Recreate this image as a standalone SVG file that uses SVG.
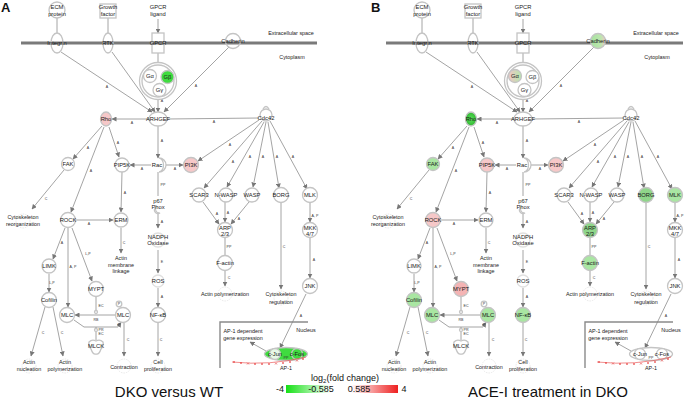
<svg xmlns="http://www.w3.org/2000/svg" width="685" height="404" viewBox="0 0 685 404">
<style>
.n{fill:#fff;stroke:#c4c4c4;stroke-width:1.3}
.nn{fill:none;stroke:#c4c4c4;stroke-width:1.3}
.fn{fill:none;stroke:#e2e2e2;stroke-width:0.8;stroke-dasharray:1.5,1}
.t{font-family:"Liberation Sans",Arial,sans-serif;font-size:5.8px;text-anchor:middle;fill:#1a1a1a}
.tf{font-family:"Liberation Sans",Arial,sans-serif;font-size:5.4px;text-anchor:middle;fill:#1a1a1a}
.tl{font-family:"Liberation Sans",Arial,sans-serif;font-size:3.6px;text-anchor:middle;fill:#333}
.e{fill:none;stroke:#858585;stroke-width:0.75}
.a{fill:none;stroke:#858585;stroke-width:0.75;marker-end:url(#ah)}
.mem{stroke:#7a7a7a;stroke-width:3}
.nuc{fill:none;stroke:#8a8a8a;stroke-width:1.4}
.pk{fill:#f6c8c8}
.gr{fill:#3fdc3f}
.lg{fill:#a9e6a2}
.mg{fill:#8fd68a}
.big{font-family:"Liberation Sans",Arial,sans-serif;font-size:15px;text-anchor:middle;fill:#111}
.lab{font-family:"Liberation Sans",Arial,sans-serif;font-size:13px;font-weight:bold;fill:#111}
.leg{font-family:"Liberation Sans",Arial,sans-serif;font-size:9px;text-anchor:middle;fill:#111}
.xl{fill:none;stroke:#e84040;stroke-width:0.6}
</style>
<defs>
<marker id="ah" viewBox="0 0 10 10" refX="9" refY="5" markerWidth="5" markerHeight="5" markerUnits="userSpaceOnUse" orient="auto"><path d="M0,0 L10,5 L0,10 z" fill="#777"/></marker>
<linearGradient id="gAl" x1="0" y1="0" x2="1" y2="0"><stop offset="0" stop-color="#f2c4c4"/><stop offset="1" stop-color="#b4e8ac"/></linearGradient>
<linearGradient id="gCad" x1="0" y1="0" x2="1" y2="0"><stop offset="0" stop-color="#a6e29e"/><stop offset="0.7" stop-color="#bde6b0"/><stop offset="1" stop-color="#f0c8c0"/></linearGradient>
<radialGradient id="gRho"><stop offset="0" stop-color="#5ee05e"/><stop offset="1" stop-color="#2fb82f"/></radialGradient>
<linearGradient id="gLeg" x1="0" y1="0" x2="1" y2="0"><stop offset="0" stop-color="#16e016"/><stop offset="0.4" stop-color="#ffffff"/><stop offset="0.58" stop-color="#ffffff"/><stop offset="1" stop-color="#ee2020"/></linearGradient>
</defs>
<rect width="685" height="404" fill="#fff"/>

<text class="lab" x="1" y="12">A</text>
<text class="lab" x="371" y="12">B</text>

<!-- ================= PANEL A ================= -->
<g id="panelA">
<line id="A-membrane" class="mem" x1="21" y1="43" x2="317" y2="43"/>
<text class="tf" x="291" y="35">Extracellular space</text>
<text class="tf" x="292" y="59">Cytoplasm</text>
<path id="A-nucleus" class="nuc" d="M220,368 V322 H308"/>
<text class="tf" x="306" y="332">Nucleus</text>

<g id="A-edges">
<line class="e" x1="57" y1="18" x2="57" y2="33"/>
<line class="e" x1="108" y1="18" x2="108" y2="33"/>
<line class="a" x1="158" y1="19" x2="158" y2="33"/>
<line class="e" x1="158" y1="53" x2="158" y2="62"/>
<line class="a" x1="61" y1="52" x2="152" y2="112"/>
<line class="a" x1="112" y1="52" x2="155" y2="112"/>
<line class="a" x1="158" y1="100" x2="158" y2="112"/>
<line class="a" x1="229" y1="47" x2="164" y2="112"/>
<line class="a" x1="149" y1="119" x2="112" y2="119"/>
<line class="e" x1="167" y1="119" x2="259" y2="118"/>
<line class="a" x1="158" y1="126" x2="158" y2="158"/>
<line class="a" x1="151" y1="165" x2="130" y2="165"/>
<line class="a" x1="165" y1="165" x2="183" y2="165"/>
<line class="e" x1="158" y1="172" x2="158" y2="196"/>
<line class="a" x1="102" y1="126" x2="73" y2="159"/>
<line class="a" x1="104" y1="127" x2="71" y2="212"/>
<line class="a" x1="109" y1="127" x2="119" y2="157"/>
<line class="a" x1="259" y1="120" x2="198" y2="161"/>
<line class="a" x1="262" y1="121" x2="204" y2="188"/>
<line class="a" x1="264" y1="122" x2="227" y2="187"/>
<line class="a" x1="266" y1="122" x2="253" y2="187"/>
<line class="a" x1="268" y1="122" x2="279" y2="188"/>
<line class="a" x1="270" y1="121" x2="307" y2="189"/>
<line class="a" x1="203" y1="202" x2="219" y2="224"/>
<line class="a" x1="225" y1="202" x2="225" y2="222"/>
<line class="a" x1="249" y1="202" x2="231" y2="224"/>
<line class="e" x1="225" y1="238" x2="225" y2="255"/>
<line class="a" x1="225" y1="271" x2="225" y2="286"/>
<line class="a" x1="281" y1="203" x2="281" y2="289"/>
<line class="a" x1="310" y1="203" x2="310" y2="222"/>
<line class="a" x1="310" y1="238" x2="310" y2="278"/>
<line class="a" x1="306" y1="294" x2="280" y2="348"/>
<line class="a" x1="266" y1="351" x2="250" y2="342"/>
<line class="a" x1="64" y1="170" x2="32" y2="209"/>
<line class="a" x1="76" y1="220" x2="113" y2="220"/>
<line class="a" x1="122" y1="172" x2="121" y2="212"/>
<line class="a" x1="121" y1="228" x2="121" y2="253"/>
<line class="a" x1="65" y1="228" x2="53" y2="259"/>
<line class="a" x1="68" y1="228" x2="68" y2="307"/>
<line class="a" x1="72" y1="228" x2="92" y2="281"/>
<line class="a" x1="49" y1="274" x2="49" y2="292"/>
<line class="a" x1="45" y1="307" x2="31" y2="356"/>
<line class="a" x1="53" y1="307" x2="63" y2="356"/>
<line class="e" x1="96" y1="297" x2="96" y2="310.5"/>
<circle class="n" cx="96" cy="312" r="1.5" stroke-width="0.7"/>
<line class="a" x1="115" y1="315" x2="75" y2="315"/>
<path class="a" d="M74,320 L84,327 L118,327 L121,322.5"/>
<line class="e" x1="96" y1="340" x2="96" y2="331.5"/>
<line class="e" x1="96" y1="328.5" x2="96" y2="327"/>
<circle class="n" cx="96" cy="330" r="1.5" stroke-width="0.7"/>
<line class="a" x1="124" y1="323" x2="124" y2="356"/>
<line class="a" x1="158" y1="323" x2="158" y2="356"/>
<line class="a" x1="158" y1="212" x2="158" y2="228"/>
<line class="a" x1="158" y1="250" x2="158" y2="273"/>
<line class="a" x1="158" y1="288" x2="158" y2="307"/>
<g id="A-edge-labels">
<text class="tl" x="107" y="88">A</text><text class="tl" x="196" y="87">A</text><text class="tl" x="162" y="102">A</text>
<text class="tl" x="132" y="124">A</text><text class="tl" x="214" y="123">A</text><text class="tl" x="162" y="142">A</text>
<text class="tl" x="142" y="170">A</text><text class="tl" x="175" y="170">A</text><text class="tl" x="163" y="186">PP</text>
<text class="tl" x="88" y="149">A</text><text class="tl" x="91" y="172">A</text><text class="tl" x="118" y="144">A</text>
<text class="tl" x="230" y="146">A</text><text class="tl" x="233" y="163">A</text><text class="tl" x="250" y="158">A</text>
<text class="tl" x="263" y="158">A</text><text class="tl" x="277" y="158">A</text><text class="tl" x="293" y="158">A</text>
<text class="tl" x="217" y="215">A</text><text class="tl" x="228" y="214">A</text><text class="tl" x="239" y="220">A</text>
<text class="tl" x="229" y="248">PP</text><text class="tl" x="229" y="279">C</text><text class="tl" x="284" y="248">C</text>
<text class="tl" x="315" y="217">A, P</text><text class="tl" x="314" y="261">A</text><text class="tl" x="301" y="317">A</text>
<text class="tl" x="46" y="200">C</text><text class="tl" x="89" y="225">A</text><text class="tl" x="125" y="194">A</text>
<text class="tl" x="124" y="244">C</text><text class="tl" x="62" y="244">A</text><text class="tl" x="73" y="268">A, P</text>
<text class="tl" x="88" y="255">L,P</text><text class="tl" x="52" y="284">L,P</text><text class="tl" x="43" y="334">C</text>
<text class="tl" x="62" y="334">C</text><text class="tl" x="101" y="307">EC</text><text class="tl" x="96" y="321">RB</text>
<text class="tl" x="119" y="326">P</text><text class="tl" x="101" y="331">PR</text><text class="tl" x="101" y="335">EC</text>
<text class="tl" x="128" y="341">C</text><text class="tl" x="161" y="341">C</text><text class="tl" x="162" y="223">A</text>
<text class="tl" x="162" y="263">E</text><text class="tl" x="162" y="298">A</text>
</g>
</g>

<g id="A-ECM"><circle class="n" cx="57" cy="10" r="8"/><text class="t" x="57" y="9">ECM</text><text class="t" x="57" y="16">protein</text></g>
<g id="A-GrowthFactor"><rect class="n" x="100" y="4" width="16" height="14"/><text class="t" x="108" y="9">Growth</text><text class="t" x="108" y="16">factor</text></g>
<g id="A-GPCRligand"><text class="t" x="158" y="9">GPCR</text><text class="t" x="158" y="16">ligand</text></g>
<g id="A-Integrin"><ellipse class="nn" cx="57" cy="43" rx="6" ry="10"/><text class="t" x="57" y="45">Integrin</text></g>
<g id="A-RTK"><ellipse class="nn" cx="108" cy="43" rx="5" ry="10"/><text class="t" x="108" y="45">RTK</text></g>
<g id="A-GPCR"><rect class="nn" x="152" y="33" width="12" height="20"/><text class="t" x="158" y="45">GPCR</text></g>
<g id="A-Cadherin"><circle class="nn" cx="233" cy="41" r="7.5"/><text class="t" x="233" y="43">Cadherin</text></g>
<g id="A-Gprotein"><circle class="n" cx="158" cy="81" r="18.5"/><circle class="nn" cx="158" cy="81" r="16"/>
<circle class="n" cx="150" cy="76" r="6.5"/><text class="t" x="150" y="78">Gα</text>
<circle class="n gr" cx="167.5" cy="77" r="6.5"/><text class="t" x="167.5" y="79">Gβ</text>
<circle class="n" cx="159.5" cy="90" r="6.5"/><text class="t" x="159.5" y="92">Gγ</text></g>
<g id="A-ARHGEF"><ellipse class="n" cx="158" cy="119" rx="9" ry="7"/><text class="t" x="158" y="121">ARHGEF</text></g>
<g id="A-Rho"><ellipse class="n pk" cx="106" cy="119" rx="5.5" ry="7"/><text class="t" x="106" y="121">Rho</text></g>
<g id="A-Cdc42"><circle class="n" cx="266" cy="115" r="6"/><path class="nn" d="M263,109 Q266,104 269,109" stroke-width="0.8"/><text class="t" x="266" y="120">Cdc42</text></g>
<g id="A-Rac"><path class="n" d="M159,158 A7,7 0 0 1 159,172 A4.5,7 0 0 0 159,158 Z" stroke-width="0.9"/><text class="t" x="157" y="167">Rac</text></g>
<g id="A-PIP5K"><circle class="n" cx="122" cy="165" r="7"/><text class="t" x="122" y="167">PIP5K</text></g>
<g id="A-PI3K"><circle class="n pk" cx="191" cy="165" r="7.5"/><text class="t" x="191" y="167">PI3K</text></g>
<g id="A-p67Phox"><path class="n" d="M156,207 A4,4 0 0 0 160,213 A3,3 0 0 1 156,207 Z" stroke-width="0.7"/><text class="t" x="158" y="203">p67</text><text class="t" x="158" y="209">Phox</text></g>
<g id="A-FAK"><circle class="n" cx="68" cy="164" r="6.5"/><text class="t" x="68" y="166">FAK</text></g>
<g id="A-SCAR3"><circle class="n" cx="199" cy="195" r="7"/><text class="t" x="199" y="197">SCAR3</text></g>
<g id="A-NWASP"><circle class="n" cx="226" cy="195" r="7"/><text class="t" x="226" y="197">N-WASP</text></g>
<g id="A-WASP"><circle class="n" cx="252" cy="195" r="7"/><text class="t" x="252" y="197">WASP</text></g>
<g id="A-BORG"><circle class="n" cx="281" cy="195" r="7.5"/><text class="t" x="281" y="197">BORG</text></g>
<g id="A-MLK"><circle class="n" cx="310" cy="195" r="7.5"/><text class="t" x="310" y="197">MLK</text></g>
<g id="A-ARP23"><circle class="n" cx="225" cy="230" r="7.5"/><text class="t" x="225" y="230">ARP</text><text class="t" x="225" y="236">2/3</text></g>
<g id="A-Factin"><circle class="n" cx="225" cy="263" r="7.5"/><text class="t" x="225" y="265">F-actin</text></g>
<g id="A-ActinPoly1"><circle class="fn" cx="225" cy="294" r="7"/><text class="tf" x="225" y="296">Actin polymerization</text></g>
<g id="A-CytoReg"><circle class="fn" cx="281" cy="298" r="7"/><text class="tf" x="281" y="296">Cytoskeleton</text><text class="tf" x="281" y="304">regulation</text></g>
<g id="A-MKK47"><circle class="n" cx="310" cy="230" r="7.5"/><text class="t" x="310" y="230">MKK</text><text class="t" x="310" y="236">4/7</text></g>
<g id="A-JNK"><circle class="n" cx="310" cy="286" r="7.5"/><text class="t" x="310" y="288">JNK</text></g>
<g id="A-GeneExpr"><text class="tf" x="243" y="333">AP-1 dependent</text><text class="tf" x="243" y="340">gene expression</text></g>
<g id="A-AP1"><ellipse class="n gr" cx="286" cy="354" rx="21.5" ry="6.5"/>
<circle class="n" cx="275" cy="354" r="5.5" style="fill:#e6f8e6"/><text class="t" x="275" y="356">c-Jun</text>
<circle class="n gr" cx="297" cy="354" r="5.5"/><text class="t" x="297" y="356">c-Fos</text>
<text class="tl" x="286" y="359" font-size="2.6">PP</text><text class="tf" x="286" y="370">AP-1</text></g>
<path id="A-xline" class="xl" d="M232,362 Q270,366 306,357 M233,361 l2,2 M235,361 l-2,2 M240,362 l2,2 M242,362 l-2,2 M247,362.5 l2,2 M249,362.5 l-2,2 M254,363 l2,2 M256,363 l-2,2 M261,363 l2,2 M263,363 l-2,2 M268,363 l2,2 M270,363 l-2,2 M275,362.5 l2,2 M277,362.5 l-2,2 M282,362 l2,2 M284,362 l-2,2 M289,361 l2,2 M291,361 l-2,2 M296,359.5 l2,2 M298,359.5 l-2,2 M302,358 l2,2 M304,358 l-2,2"/>
<g id="A-CytoReorg"><circle class="fn" cx="23" cy="221" r="7"/><text class="tf" x="23" y="219">Cytoskeleton</text><text class="tf" x="23" y="226">reorganization</text></g>
<g id="A-ROCK"><circle class="n" cx="68" cy="220" r="7.5"/><text class="t" x="68" y="222">ROCK</text></g>
<g id="A-ERM"><circle class="n" cx="121" cy="220" r="7"/><text class="t" x="121" y="222">ERM</text></g>
<g id="A-ActinMem"><text class="tf" x="121" y="260">Actin</text><text class="tf" x="121" y="266.5">membrane</text><text class="tf" x="121" y="273">linkage</text></g>
<g id="A-LIMK"><circle class="n" cx="49" cy="266" r="7"/><text class="t" x="49" y="268">LIMK</text></g>
<g id="A-MYPT"><circle class="n" cx="96" cy="289" r="7.5"/><text class="t" x="96" y="291">MYPT</text></g>
<g id="A-Cofilin"><circle class="n" cx="49" cy="300" r="7.5"/><text class="t" x="49" y="302">Cofilin</text></g>
<g id="A-ActinNuc"><circle class="fn" cx="29" cy="366" r="7"/><text class="tf" x="29" y="364">Actin</text><text class="tf" x="29" y="371">nucleation</text></g>
<g id="A-ActinPoly2"><circle class="fn" cx="65" cy="366" r="7"/><text class="tf" x="65" y="364">Actin</text><text class="tf" x="65" y="371">polymerization</text></g>
<g id="A-MLCleft"><circle class="n" cx="67" cy="315" r="7.5"/><text class="t" x="67" y="317">MLC</text></g>
<g id="A-MLCright"><circle class="n" cx="123" cy="315" r="7.5"/><text class="t" x="123" y="317">MLC</text><circle class="n" cx="119" cy="304" r="2.8" stroke-width="0.7"/><text class="tl" x="119" y="305.3">P</text></g>
<g id="A-MLCK"><path class="n" d="M89,342 Q92,339 96,341 Q100,339 103,342 Q104,346 101,349 Q99,355 96,354 Q93,355 91,349 Q88,346 89,342 Z" stroke-width="0.9"/><text class="t" x="96" y="348">MLCK</text></g>
<g id="A-Contraction"><circle class="fn" cx="124" cy="366" r="7"/><text class="tf" x="124" y="369">Contraction</text></g>
<g id="A-NFkB"><circle class="n" cx="158" cy="315" r="7.5"/><text class="t" x="158" y="317">NF-κB</text></g>
<g id="A-CellProlif"><circle class="fn" cx="158" cy="366" r="7"/><text class="tf" x="158" y="364">Cell</text><text class="tf" x="158" y="371">proliferation</text></g>
<g id="A-NADPH"><circle class="nn" cx="158" cy="240" r="7" style="stroke:#e0e0e0"/><text class="t" x="158" y="239">NADPH</text><text class="t" x="158" y="245">Oxidase</text></g>
<g id="A-ROS"><circle class="nn" cx="158" cy="281" r="6" style="stroke:#e0e0e0"/><text class="t" x="158" y="283">ROS</text></g>
</g>

<!-- ================= PANEL B ================= -->
<g id="panelB" transform="translate(365,0)">
<line id="B-membrane" class="mem" x1="21" y1="43" x2="318" y2="43"/>
<text class="tf" x="291" y="35">Extracellular space</text>
<text class="tf" x="292" y="59">Cytoplasm</text>
<path id="B-nucleus" class="nuc" d="M220,368 V322 H308"/>
<text class="tf" x="306" y="332">Nucleus</text>

<g id="B-edges">
<line class="e" x1="57" y1="18" x2="57" y2="33"/>
<line class="e" x1="108" y1="18" x2="108" y2="33"/>
<line class="a" x1="158" y1="19" x2="158" y2="33"/>
<line class="e" x1="158" y1="53" x2="158" y2="62"/>
<line class="a" x1="61" y1="52" x2="152" y2="112"/>
<line class="a" x1="112" y1="52" x2="155" y2="112"/>
<line class="a" x1="158" y1="100" x2="158" y2="112"/>
<line class="a" x1="229" y1="47" x2="164" y2="112"/>
<line class="a" x1="149" y1="119" x2="112" y2="119"/>
<line class="e" x1="167" y1="119" x2="259" y2="118"/>
<line class="a" x1="158" y1="126" x2="158" y2="158"/>
<line class="a" x1="151" y1="165" x2="130" y2="165"/>
<line class="a" x1="165" y1="165" x2="183" y2="165"/>
<line class="e" x1="158" y1="172" x2="158" y2="196"/>
<line class="a" x1="102" y1="126" x2="73" y2="159"/>
<line class="a" x1="104" y1="127" x2="71" y2="212"/>
<line class="a" x1="109" y1="127" x2="119" y2="157"/>
<line class="a" x1="259" y1="120" x2="198" y2="161"/>
<line class="a" x1="262" y1="121" x2="204" y2="188"/>
<line class="a" x1="264" y1="122" x2="227" y2="187"/>
<line class="a" x1="266" y1="122" x2="253" y2="187"/>
<line class="a" x1="268" y1="122" x2="279" y2="188"/>
<line class="a" x1="270" y1="121" x2="307" y2="189"/>
<line class="a" x1="203" y1="202" x2="219" y2="224"/>
<line class="a" x1="225" y1="202" x2="225" y2="222"/>
<line class="a" x1="249" y1="202" x2="231" y2="224"/>
<line class="e" x1="225" y1="238" x2="225" y2="255"/>
<line class="a" x1="225" y1="271" x2="225" y2="286"/>
<line class="a" x1="281" y1="203" x2="281" y2="289"/>
<line class="a" x1="310" y1="203" x2="310" y2="222"/>
<line class="a" x1="310" y1="238" x2="310" y2="278"/>
<line class="a" x1="306" y1="294" x2="280" y2="348"/>
<line class="a" x1="266" y1="351" x2="250" y2="342"/>
<line class="a" x1="64" y1="170" x2="32" y2="209"/>
<line class="a" x1="76" y1="220" x2="113" y2="220"/>
<line class="a" x1="122" y1="172" x2="121" y2="212"/>
<line class="a" x1="121" y1="228" x2="121" y2="253"/>
<line class="a" x1="65" y1="228" x2="53" y2="259"/>
<line class="a" x1="68" y1="228" x2="68" y2="307"/>
<line class="a" x1="72" y1="228" x2="92" y2="281"/>
<line class="a" x1="49" y1="274" x2="49" y2="292"/>
<line class="a" x1="45" y1="307" x2="31" y2="356"/>
<line class="a" x1="53" y1="307" x2="63" y2="356"/>
<line class="e" x1="96" y1="297" x2="96" y2="310.5"/>
<circle class="n" cx="96" cy="312" r="1.5" stroke-width="0.7"/>
<line class="a" x1="115" y1="315" x2="75" y2="315"/>
<path class="a" d="M74,320 L84,327 L118,327 L121,322.5"/>
<line class="e" x1="96" y1="340" x2="96" y2="331.5"/>
<line class="e" x1="96" y1="328.5" x2="96" y2="327"/>
<circle class="n" cx="96" cy="330" r="1.5" stroke-width="0.7"/>
<line class="a" x1="124" y1="323" x2="124" y2="356"/>
<line class="a" x1="158" y1="323" x2="158" y2="356"/>
<line class="a" x1="158" y1="212" x2="158" y2="228"/>
<line class="a" x1="158" y1="250" x2="158" y2="273"/>
<line class="a" x1="158" y1="288" x2="158" y2="307"/>
<g id="B-edge-labels">
<text class="tl" x="107" y="88">A</text><text class="tl" x="196" y="87">A</text><text class="tl" x="162" y="102">A</text>
<text class="tl" x="132" y="124">A</text><text class="tl" x="214" y="123">A</text><text class="tl" x="162" y="142">A</text>
<text class="tl" x="142" y="170">A</text><text class="tl" x="175" y="170">A</text><text class="tl" x="163" y="186">PP</text>
<text class="tl" x="88" y="149">A</text><text class="tl" x="91" y="172">A</text><text class="tl" x="118" y="144">A</text>
<text class="tl" x="230" y="146">A</text><text class="tl" x="233" y="163">A</text><text class="tl" x="250" y="158">A</text>
<text class="tl" x="263" y="158">A</text><text class="tl" x="277" y="158">A</text><text class="tl" x="293" y="158">A</text>
<text class="tl" x="217" y="215">A</text><text class="tl" x="228" y="214">A</text><text class="tl" x="239" y="220">A</text>
<text class="tl" x="229" y="248">PP</text><text class="tl" x="229" y="279">C</text><text class="tl" x="284" y="248">C</text>
<text class="tl" x="315" y="217">A, P</text><text class="tl" x="314" y="261">A</text><text class="tl" x="301" y="317">A</text>
<text class="tl" x="46" y="200">C</text><text class="tl" x="89" y="225">A</text><text class="tl" x="125" y="194">A</text>
<text class="tl" x="124" y="244">C</text><text class="tl" x="62" y="244">A</text><text class="tl" x="73" y="268">A, P</text>
<text class="tl" x="88" y="255">L,P</text><text class="tl" x="52" y="284">L,P</text><text class="tl" x="43" y="334">C</text>
<text class="tl" x="62" y="334">C</text><text class="tl" x="101" y="307">EC</text><text class="tl" x="96" y="321">RB</text>
<text class="tl" x="119" y="326">P</text><text class="tl" x="101" y="331">PR</text><text class="tl" x="101" y="335">EC</text>
<text class="tl" x="128" y="341">C</text><text class="tl" x="161" y="341">C</text><text class="tl" x="162" y="223">A</text>
<text class="tl" x="162" y="263">E</text><text class="tl" x="162" y="298">A</text>
</g>
</g>

<g id="B-ECM"><circle class="n" cx="57" cy="10" r="8"/><text class="t" x="57" y="9">ECM</text><text class="t" x="57" y="16">protein</text></g>
<g id="B-GrowthFactor"><rect class="n" x="100" y="4" width="16" height="14"/><text class="t" x="108" y="9">Growth</text><text class="t" x="108" y="16">factor</text></g>
<g id="B-GPCRligand"><text class="t" x="158" y="9">GPCR</text><text class="t" x="158" y="16">ligand</text></g>
<g id="B-Integrin"><ellipse class="nn" cx="57" cy="43" rx="6" ry="10"/><text class="t" x="57" y="45">Integrin</text></g>
<g id="B-RTK"><ellipse class="nn" cx="108" cy="43" rx="5" ry="10"/><text class="t" x="108" y="45">RTK</text></g>
<g id="B-GPCR"><rect class="nn" x="152" y="33" width="12" height="20"/><text class="t" x="158" y="45">GPCR</text></g>
<g id="B-Cadherin"><circle class="n" cx="233" cy="41" r="7.5" style="fill:url(#gCad)"/><text class="t" x="233" y="43">Cadherin</text></g>
<g id="B-Gprotein"><circle class="n" cx="158" cy="81" r="18.5"/><circle class="nn" cx="158" cy="81" r="16"/>
<circle class="n" cx="150" cy="76" r="6.5" style="fill:url(#gAl)"/><text class="t" x="150" y="78">Gα</text>
<circle class="n" cx="167.5" cy="77" r="6.5"/><text class="t" x="167.5" y="79">Gβ</text>
<circle class="n" cx="159.5" cy="90" r="6.5"/><text class="t" x="159.5" y="92">Gγ</text></g>
<g id="B-ARHGEF"><ellipse class="n" cx="158" cy="119" rx="9" ry="7"/><text class="t" x="158" y="121">ARHGEF</text></g>
<g id="B-Rho"><ellipse class="n" cx="106" cy="119" rx="5.5" ry="7" style="fill:url(#gRho)"/><text class="t" x="106" y="121">Rho</text></g>
<g id="B-Cdc42"><circle class="n" cx="266" cy="115" r="6"/><path class="nn" d="M263,109 Q266,104 269,109" stroke-width="0.8"/><text class="t" x="266" y="120">Cdc42</text></g>
<g id="B-Rac"><path class="n" d="M159,158 A7,7 0 0 1 159,172 A4.5,7 0 0 0 159,158 Z" stroke-width="0.9"/><text class="t" x="157" y="167">Rac</text></g>
<g id="B-PIP5K"><circle class="n pk" cx="122" cy="165" r="7"/><text class="t" x="122" y="167">PIP5K</text></g>
<g id="B-PI3K"><circle class="n pk" cx="191" cy="165" r="7.5"/><text class="t" x="191" y="167">PI3K</text></g>
<g id="B-p67Phox"><path class="n" d="M156,207 A4,4 0 0 0 160,213 A3,3 0 0 1 156,207 Z" stroke-width="0.7"/><text class="t" x="158" y="203">p67</text><text class="t" x="158" y="209">Phox</text></g>
<g id="B-FAK"><circle class="n lg" cx="68" cy="164" r="6.5"/><text class="t" x="68" y="166">FAK</text></g>
<g id="B-SCAR3"><circle class="n" cx="199" cy="195" r="7"/><text class="t" x="199" y="197">SCAR3</text></g>
<g id="B-NWASP"><circle class="n" cx="226" cy="195" r="7"/><text class="t" x="226" y="197">N-WASP</text></g>
<g id="B-WASP"><circle class="n" cx="252" cy="195" r="7"/><text class="t" x="252" y="197">WASP</text></g>
<g id="B-BORG"><circle class="n mg" cx="281" cy="195" r="7.5"/><text class="t" x="281" y="197">BORG</text></g>
<g id="B-MLK"><circle class="n lg" cx="310" cy="195" r="7.5"/><text class="t" x="310" y="197">MLK</text></g>
<g id="B-ARP23"><circle class="n mg" cx="225" cy="230" r="7.5"/><text class="t" x="225" y="230">ARP</text><text class="t" x="225" y="236">2/3</text></g>
<g id="B-Factin"><circle class="n lg" cx="225" cy="263" r="7.5"/><text class="t" x="225" y="265">F-actin</text></g>
<g id="B-ActinPoly1"><circle class="fn" cx="225" cy="294" r="7"/><text class="tf" x="225" y="296">Actin polymerization</text></g>
<g id="B-CytoReg"><circle class="fn" cx="281" cy="298" r="7"/><text class="tf" x="281" y="296">Cytoskeleton</text><text class="tf" x="281" y="304">regulation</text></g>
<g id="B-MKK47"><circle class="n" cx="310" cy="230" r="7.5"/><text class="t" x="310" y="230">MKK</text><text class="t" x="310" y="236">4/7</text></g>
<g id="B-JNK"><circle class="n" cx="310" cy="286" r="7.5"/><text class="t" x="310" y="288">JNK</text></g>
<g id="B-GeneExpr"><text class="tf" x="243" y="333">AP-1 dependent</text><text class="tf" x="243" y="340">gene expression</text></g>
<g id="B-AP1"><ellipse class="n" cx="286" cy="354" rx="21.5" ry="6.5"/>
<circle class="n" cx="275" cy="354" r="5.5"/><text class="t" x="275" y="356">c-Jun</text>
<circle class="n" cx="297" cy="354" r="5.5"/><text class="t" x="297" y="356">c-Fos</text>
<text class="tl" x="286" y="359" font-size="2.6">PP</text><text class="tf" x="286" y="370">AP-1</text></g>
<path id="B-xline" class="xl" d="M232,362 Q270,366 306,357 M233,361 l2,2 M235,361 l-2,2 M240,362 l2,2 M242,362 l-2,2 M247,362.5 l2,2 M249,362.5 l-2,2 M254,363 l2,2 M256,363 l-2,2 M261,363 l2,2 M263,363 l-2,2 M268,363 l2,2 M270,363 l-2,2 M275,362.5 l2,2 M277,362.5 l-2,2 M282,362 l2,2 M284,362 l-2,2 M289,361 l2,2 M291,361 l-2,2 M296,359.5 l2,2 M298,359.5 l-2,2 M302,358 l2,2 M304,358 l-2,2"/>
<g id="B-CytoReorg"><circle class="fn" cx="23" cy="221" r="7"/><text class="tf" x="23" y="219">Cytoskeleton</text><text class="tf" x="23" y="226">reorganization</text></g>
<g id="B-ROCK"><circle class="n pk" cx="68" cy="220" r="7.5"/><text class="t" x="68" y="222">ROCK</text></g>
<g id="B-ERM"><circle class="n" cx="121" cy="220" r="7"/><text class="t" x="121" y="222">ERM</text></g>
<g id="B-ActinMem"><text class="tf" x="121" y="260">Actin</text><text class="tf" x="121" y="266.5">membrane</text><text class="tf" x="121" y="273">linkage</text></g>
<g id="B-LIMK"><circle class="n" cx="49" cy="266" r="7"/><text class="t" x="49" y="268">LIMK</text></g>
<g id="B-MYPT"><circle class="n" cx="96" cy="289" r="7.5" style="fill:#f4b4b4"/><text class="t" x="96" y="291">MYPT</text></g>
<g id="B-Cofilin"><circle class="n lg" cx="49" cy="300" r="7.5"/><text class="t" x="49" y="302">Cofilin</text></g>
<g id="B-ActinNuc"><circle class="fn" cx="29" cy="366" r="7"/><text class="tf" x="29" y="364">Actin</text><text class="tf" x="29" y="371">nucleation</text></g>
<g id="B-ActinPoly2"><circle class="fn" cx="65" cy="366" r="7"/><text class="tf" x="65" y="364">Actin</text><text class="tf" x="65" y="371">polymerization</text></g>
<g id="B-MLCleft"><circle class="n lg" cx="67" cy="315" r="7.5"/><text class="t" x="67" y="317">MLC</text></g>
<g id="B-MLCright"><circle class="n lg" cx="123" cy="315" r="7.5"/><text class="t" x="123" y="317">MLC</text><circle class="n" cx="119" cy="304" r="2.8" stroke-width="0.7"/><text class="tl" x="119" y="305.3">P</text></g>
<g id="B-MLCK"><path class="n" d="M89,342 Q92,339 96,341 Q100,339 103,342 Q104,346 101,349 Q99,355 96,354 Q93,355 91,349 Q88,346 89,342 Z" stroke-width="0.9"/><text class="t" x="96" y="348">MLCK</text></g>
<g id="B-Contraction"><circle class="fn" cx="124" cy="366" r="7"/><text class="tf" x="124" y="369">Contraction</text></g>
<g id="B-NFkB"><circle class="n lg" cx="158" cy="315" r="7.5"/><text class="t" x="158" y="317">NF-κB</text></g>
<g id="B-CellProlif"><circle class="fn" cx="158" cy="366" r="7"/><text class="tf" x="158" y="364">Cell</text><text class="tf" x="158" y="371">proliferation</text></g>
<g id="B-NADPH"><circle class="nn" cx="158" cy="240" r="7" style="stroke:#e0e0e0"/><text class="t" x="158" y="239">NADPH</text><text class="t" x="158" y="245">Oxidase</text></g>
<g id="B-ROS"><circle class="nn" cx="158" cy="281" r="6" style="stroke:#e0e0e0"/><text class="t" x="158" y="283">ROS</text></g>
</g>

<!-- titles and legend -->
<text class="big" x="169" y="397">DKO versus WT</text>
<text class="big" x="548" y="397">ACE-I treatment in DKO</text>
<g id="legend">
<text class="leg" x="345" y="381">log<tspan font-size="6" dy="2">2</tspan><tspan dy="-2">(fold change)</tspan></text>
<rect x="286" y="385" width="112" height="8" fill="url(#gLeg)"/>
<text class="leg" x="280" y="392">-4</text>
<text class="leg" x="321" y="392">-0.585</text>
<text class="leg" x="359" y="392">0.585</text>
<text class="leg" x="404" y="392">4</text>
</g>
</svg>
